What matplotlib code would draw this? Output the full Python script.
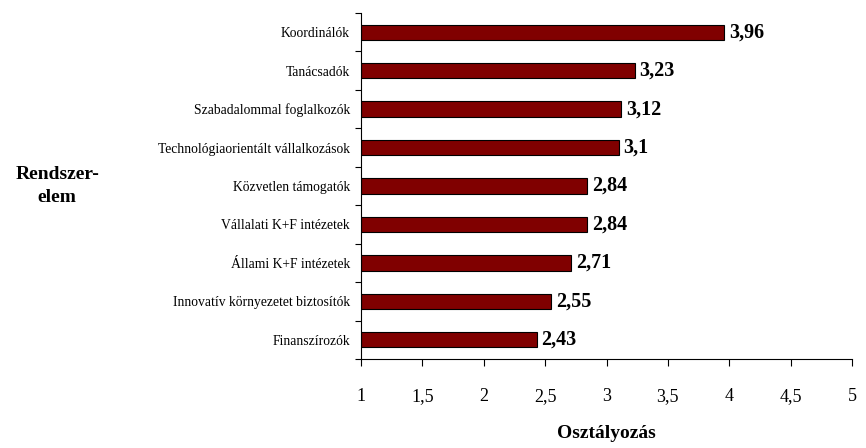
import matplotlib
matplotlib.use("Agg")
import matplotlib.pyplot as plt
import numpy as np

plt.rcParams['font.family'] = ['Liberation Serif', 'DejaVu Serif']

categories = [
    "Koordinálók",
    "Tanácsadók",
    "Szabadalommal foglalkozók",
    "Technológiaorientált vállalkozások",
    "Közvetlen támogatók",
    "Vállalati K+F intézetek",
    "Állami K+F intézetek",
    "Innovatív környezetet biztosítók",
    "Finanszírozók",
]
values = [3.96, 3.23, 3.12, 3.1, 2.84, 2.84, 2.71, 2.55, 2.43]
value_labels = ["3,96", "3,23", "3,12", "3,1", "2,84", "2,84", "2,71", "2,55", "2,43"]
xticks = [1, 1.5, 2, 2.5, 3, 3.5, 4, 4.5, 5]
xtick_labels = ["1", "1,5", "2", "2,5", "3", "3,5", "4", "4,5", "5"]

fig = plt.figure(figsize=(8.66, 4.48), dpi=100)
ax = fig.add_axes([0.4169, 0.1987, 0.5669, 0.7723])

n = len(categories)
y = np.arange(n)[::-1]
ax.barh(y, np.array(values) - 1, left=1, height=0.4, color="#800000",
        edgecolor="black", linewidth=0.8)

for yi, v, lab in zip(y, values, value_labels):
    ax.text(v + 0.04, yi, lab, va="center", ha="left", fontsize=14.5,
            fontweight="bold")

ax.set_xlim(1, 5)
ax.set_ylim(-0.5, n - 0.5)
ax.set_xticks(xticks)
ax.set_xticklabels(xtick_labels, fontsize=13)
ax.tick_params(axis="x", direction="out", length=5, width=0.8, pad=16)

# category boundaries get the tick marks, centres carry the labels
ax.set_yticks(np.arange(n + 1) - 0.5)
ax.set_yticklabels([])
ax.tick_params(axis="y", which="major", direction="out", length=4, width=0.8)
ax.set_yticks(y, minor=True)
ax.set_yticklabels(categories, minor=True, fontsize=9.8)
ax.tick_params(axis="y", which="minor", length=0, pad=8)

for s in ["top", "right"]:
    ax.spines[s].set_visible(False)
for s in ["left", "bottom"]:
    ax.spines[s].set_linewidth(0.8)

fig.text(0.066, 0.585, "Rendszer-\nelem", ha="center", va="center",
         fontsize=14, fontweight="bold", linespacing=1.4)
ax.set_xlabel("Osztályozás", fontsize=14, fontweight="bold", labelpad=14)

plt.savefig("out.png", dpi=100)
